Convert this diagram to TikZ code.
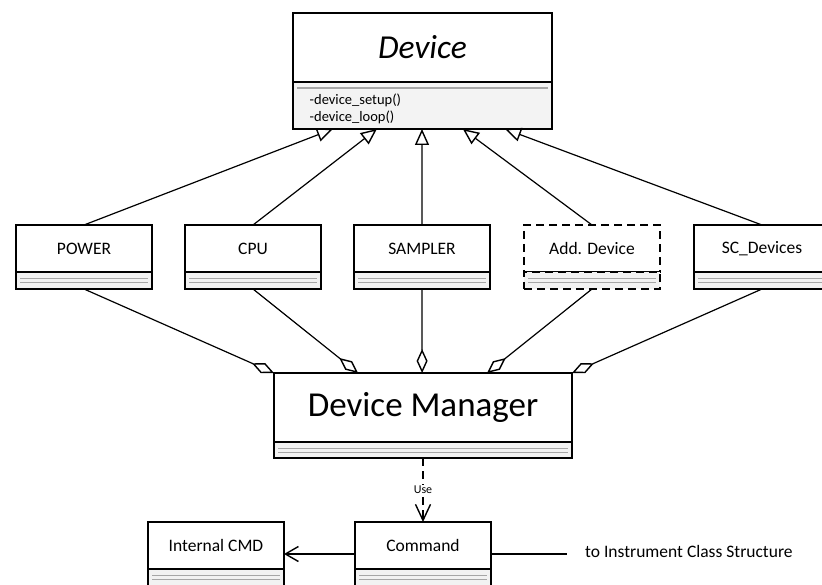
\documentclass[tikz,border=0pt]{standalone}
\usepackage{fontspec}
\setmainfont{Carlito}
\usetikzlibrary{arrows.meta,calc}

\definecolor{compgray}{HTML}{F2F2F2}
\definecolor{rulegray}{HTML}{A6A6A6}

\tikzset{
  boxline/.style={draw, line width=1.5pt, inner sep=0pt, outer sep=0pt},
  classtop/.style={boxline, fill=white, minimum width=136pt, minimum height=47pt,
    font=\fontsize{17.5}{20}\selectfont},
  doublerule/.style={path picture={
      \draw[solid, rulegray, line width=0.8pt]
        ([xshift=4pt,yshift=-#1]path picture bounding box.north west) --
        ([xshift=-4pt,yshift=-#1]path picture bounding box.north east)
        ([xshift=4pt,yshift=-#1-4.5pt]path picture bounding box.north west) --
        ([xshift=-4pt,yshift=-#1-4.5pt]path picture bounding box.north east);}},
  singlerule/.style={path picture={
      \draw[solid, rulegray, line width=1.6pt]
        ([xshift=4pt,yshift=-#1]path picture bounding box.north west) --
        ([xshift=-4pt,yshift=-#1]path picture bounding box.north east);}},
  classbot/.style={boxline, fill=compgray, minimum width=136pt, minimum height=17pt,
    anchor=north, doublerule=6pt},
  dashedbox/.style={dash pattern=on 8pt off 5pt},
  inherit/.style={line width=1.2pt, -{Triangle[open, length=16pt, width=14pt, line width=1.4pt]}},
  aggr/.style={line width=1.2pt, -{Diamond[open, length=24pt, width=11pt, line width=1.4pt]}},
  usedep/.style={line width=1.2pt, dash pattern=on 8pt off 5pt,
    -{Straight Barb[length=16pt, width=15pt, line width=1.4pt]}},
  assoc/.style={line width=1.2pt, -{Straight Barb[length=13pt, width=15pt, line width=1.4pt]}},
  plain/.style={line width=1.2pt},
  methodtext/.style={anchor=west, inner sep=0pt, font=\fontsize{14.5}{17}\selectfont},
  uselabel/.style={fill=white, inner sep=1.5pt, font=\fontsize{12}{14}\selectfont},
}

\begin{document}
\begin{tikzpicture}[x=1pt, y=-1pt]
  \useasboundingbox (0,0) rectangle (822,585);
  \clip (0,0) rectangle (822,585);

  % abstract base class
  \node[boxline, fill=white, minimum width=259pt, minimum height=69pt,
        font=\fontsize{33.5}{40}\selectfont\itshape] (device) at (422.5,47.5) {Device};
  \node[boxline, fill=compgray!90!white, minimum width=259pt, minimum height=47pt,
        anchor=north, singlerule=6pt] (devB) at (device.south) {};
  \node[methodtext] (m1) at (309.5,100.5) {-device\_setup()};
  \node[methodtext] (m2) at (309.5,117.5) {-device\_loop()};

  % concrete devices
  \node[classtop] (power) at (84,248.5) {POWER};
  \node[classbot] (powerB) at (power.south) {};
  \node[classtop] (cpu) at (253,248.5) {CPU};
  \node[classbot] (cpuB) at (cpu.south) {};
  \node[classtop] (sampler) at (422,248.5) {SAMPLER};
  \node[classbot] (samplerB) at (sampler.south) {};
  \node[classtop, dashedbox] (adddev) at (592,248.5) {Add. Device};
  \node[classbot, dashedbox] (adddevB) at (adddev.south) {};
  \node[classtop] (scdev) at (762,248.5) {SC\_Devices};
  \node[classbot] (scdevB) at (scdev.south) {};

  % manager
  \node[boxline, fill=white, minimum width=298pt, minimum height=69pt,
        font=\fontsize{35}{42}\selectfont] (dm) at (423,407.5) {Device Manager};
  \node[boxline, fill=compgray, minimum width=298pt, minimum height=16pt,
        anchor=north, doublerule=6pt] (dmB) at (dm.south) {};

  % commands
  \node[classtop] (cmd) at (423,545.5) {Command};
  \node[classbot] (cmdB) at (cmd.south) {};
  \node[classtop] (icmd) at (216,545.5) {Internal CMD};
  \node[classbot] (icmdB) at (icmd.south) {};

  \node[anchor=base west, inner sep=0pt, font=\fontsize{17.5}{20}\selectfont]
    (toinst) at (585,557) {to Instrument Class Structure};
  \coordinate (linkend) at (567,554);

  % generalisation
  \foreach \src/\t in {power/0.154, cpu/0.324, sampler/0.498, adddev/0.656, scdev/0.819}
    \draw[inherit] (\src.north) -- ($(devB.south west)!\t!(devB.south east)$);

  % aggregation
  \foreach \src/\t in {powerB/0, cpuB/0.282, samplerB/0.497, adddevB/0.715, scdevB/1}
    \draw[aggr] (\src.south) -- ($(dm.north west)!\t!(dm.north east)$);

  % dependency
  \draw[usedep] (dmB.south) -- node[uselabel] (uselbl) {Use} (cmd.north);

  % association
  \draw[assoc] ($(cmdB.north west)+(0,-15)$) -- ($(icmdB.north east)+(0,-15)$);
  \draw[plain] ($(cmdB.north east)+(0,-15)$) -- (linkend);
\end{tikzpicture}
\end{document}
